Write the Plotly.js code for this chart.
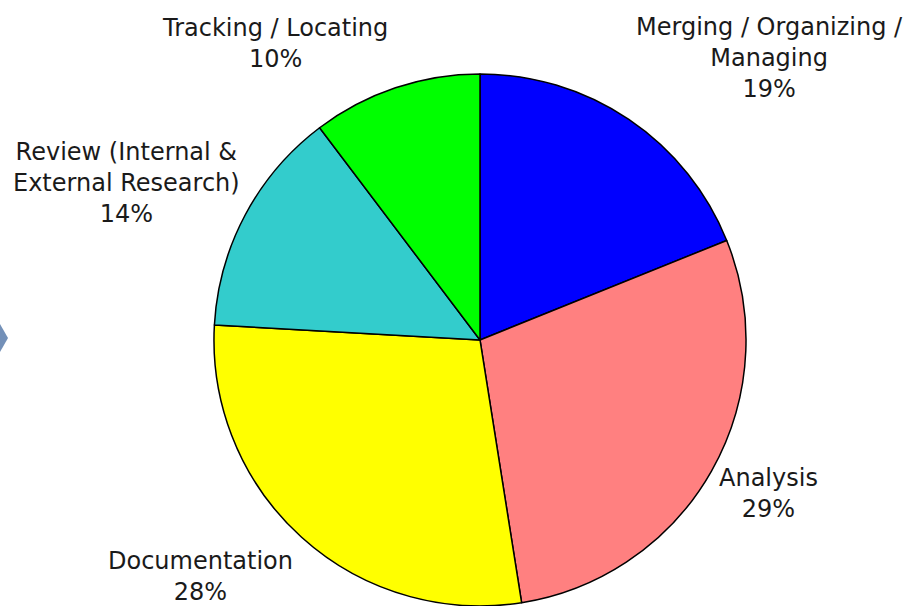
<!DOCTYPE html>
<html>
<head>
<meta charset="utf-8">
<script src="https://cdn.plot.ly/plotly-3.0.1.min.js"></script>
<style>html,body{margin:0;padding:0;background:#fff;}#chart{width:909px;height:606px;}</style>
</head>
<body>
<div id="chart"></div>
<script>
const categories = ["Merging / Organizing / Managing", "Analysis", "Documentation", "Review (Internal & External Research)", "Tracking / Locating"];
const displayLabels = ["Merging / Organizing /<br>Managing", "Analysis", "Documentation", "Review (Internal &<br>External Research)", "Tracking / Locating"];
const values = [18.9, 28.6, 28.4, 13.8, 10.3];
const colors = ["#0000FF", "#FF8080", "#FFFF00", "#33CCCC", "#00FF00"];
// label anchor positions (paper fractions)
const labelX = [0.847, 0.845, 0.221, 0.139, 0.303];
const labelY = [0.904, 0.185, 0.048, 0.698, 0.929];

const total = values.reduce((a, b) => a + b, 0);
const annotations = categories.map((c, i) => ({
  xref: "paper", yref: "paper", x: labelX[i], y: labelY[i],
  xanchor: "center", yanchor: "middle", showarrow: false, align: "center",
  text: displayLabels[i] + "<br>" + Math.round(values[i] / total * 100) + "%",
  font: {family: "DejaVu Sans", size: 24, color: "#1a1a1a"}
}));

const trace = {
  type: "pie",
  labels: categories,
  values: values,
  sort: false,
  direction: "clockwise",
  rotation: 0,
  marker: {colors: colors, line: {color: "#000000", width: 1.5}},
  textinfo: "none",
  hoverinfo: "none",
  showlegend: false,
  domain: {x: [0.2354, 0.8207], y: [0.0, 0.878]}
};

const layout = {
  width: 909, height: 606,
  margin: {l: 0, r: 0, t: 0, b: 0},
  paper_bgcolor: "#ffffff",
  showlegend: false,
  annotations: annotations,
  shapes: [{
    type: "path", xref: "paper", yref: "paper",
    path: "M -0.01,0.4917 L 0.0088,0.4422 L -0.01,0.3927 Z",
    fillcolor: "#7390B8", line: {width: 0}
  }]
};

Plotly.newPlot("chart", [trace], layout, {staticPlot: true});
</script>
</body>
</html>
